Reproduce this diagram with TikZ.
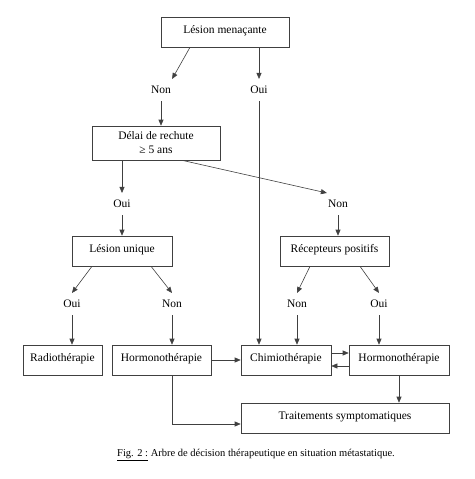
\documentclass[tikz,border=0pt]{standalone}
\usepackage{fontspec}
\setmainfont{Liberation Serif}
\usetikzlibrary{arrows.meta, positioning}
\tikzset{
  box/.style    = {rectangle, draw=black!75, line width=0.6pt,
                   minimum height=30pt, align=center, inner sep=2pt,
                   font=\fontsize{11.5}{14}\selectfont},
  oneline/.style = {box, text height=8pt, text depth=6pt},
  answer/.style = {inner xsep=1pt, inner ysep=7pt,
                   font=\fontsize{11.5}{14}\selectfont},
  arrow/.style  = {-{Triangle[length=6pt,width=5pt]}, draw=black!75,
                   line width=0.6pt},
  legend/.style = {font=\fontsize{10.5}{12}\selectfont},
}
\begin{document}
\begin{tikzpicture}[x=1pt, y=-1pt]
    \useasboundingbox (0,0) rectangle (474,479);

    \node[oneline, minimum width=128pt] (menace) at (225,32)
      {Lésion menaçante};
    \node[answer] (non1) at (161,90) {Non};
    \node[answer] (oui1) at (259,90) {Oui};

    \node[box, minimum width=128pt, minimum height=34pt] (delai) at (156,143)
      {Délai de rechute\\≥ 5 ans};
    \node[answer] (oui2) at (122,204) {Oui};
    \node[answer] (non2) at (338,204) {Non};

    \node[oneline, minimum width=100pt] (unique) at (122,251) {Lésion unique};
    \node[oneline, minimum width=109pt] (recept) at (334.5,251)
      {Récepteurs positifs};

    \node[answer] (oui3) at (72,304) {Oui};
    \node[answer] (non3) at (172,304) {Non};
    \node[answer] (non4) at (297,304) {Non};
    \node[answer] (oui4) at (379,304) {Oui};

    \node[oneline, minimum width=79pt] (radio) at (62.5,360) {Radiothérapie};
    \node[oneline, minimum width=99pt] (hormoA) at (161.5,360) {Hormonothérapie};
    \node[oneline, minimum width=90pt] (chimio) at (286,360) {Chimiothérapie};
    \node[oneline, minimum width=100pt] (hormoB) at (399,360) {Hormonothérapie};
    \node[oneline, minimum width=208pt] (sympto) at (345,418)
      {Traitements symptomatiques};

    \node[legend] (legende) at (256,455)
      {\underline{Fig. 2 :} Arbre de décision thérapeutique en situation métastatique.};

    % premier niveau
    \draw[arrow] ([xshift=-35]menace.south) -- (non1.north east);
    \draw[arrow] (oui1.north |- menace.south) -- (oui1.north);
    \draw[arrow] (non1.south) -- (non1.south |- delai.north);
    \draw[arrow] (oui1.south) -- (oui1.south |- chimio.north);

    % délai de rechute
    \draw[arrow] (oui2.north |- delai.south) -- (oui2.north);
    \draw[arrow] ([xshift=26]delai.south) -- (non2.north west);
    \draw[arrow] (oui2.south) -- (unique.north);
    \draw[arrow] (non2.south) -- (non2.south |- recept.north);

    % lésion unique / récepteurs
    \draw[arrow] ([xshift=-30]unique.south) -- (oui3.north);
    \draw[arrow] ([xshift=29]unique.south) -- (non3.north);
    \draw[arrow] ([xshift=-24.5]recept.south) -- (non4.north);
    \draw[arrow] ([xshift=25.5]recept.south) -- (oui4.north);

    \draw[arrow] (oui3.south) -- (oui3.south |- radio.north);
    \draw[arrow] (non3.south) -- (non3.south |- hormoA.north);
    \draw[arrow] (non4.south) -- (non4.south |- chimio.north);
    \draw[arrow] (oui4.south) -- (oui4.south |- hormoB.north);

    % traitements
    \draw[arrow] (hormoA.east) -- (chimio.west);
    \draw[arrow] ([yshift=7]chimio.east) -- ([yshift=7]hormoB.west);
    \draw[arrow] ([yshift=-6]hormoB.west) -- ([yshift=-6]chimio.east);
    \draw[arrow] (hormoB.south) -- (hormoB.south |- sympto.north);
    \draw[arrow] (non3.south |- hormoA.south) |- ([yshift=-6]sympto.west);

  \end{tikzpicture}
\end{document}
